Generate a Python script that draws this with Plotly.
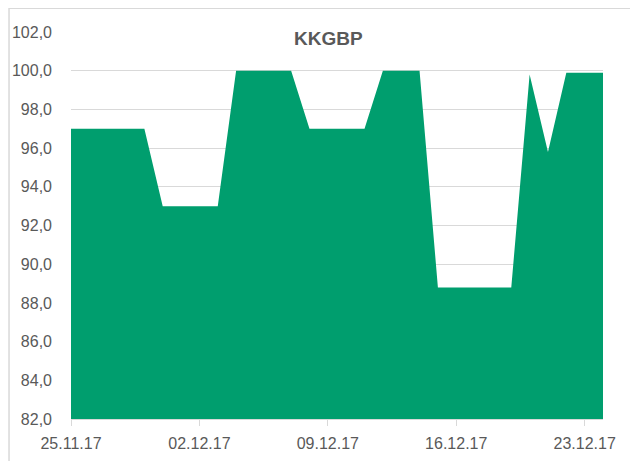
import plotly.graph_objects as go
import pandas as pd

dates = pd.date_range("2017-11-25", "2017-12-24", freq="D").strftime("%Y-%m-%d").tolist()
values = [97.0, 97.0, 97.0, 97.0, 97.0,
          93.0, 93.0, 93.0, 93.0,
          100.0, 100.0, 100.0, 100.0,
          97.0, 97.0, 97.0, 97.0,
          100.0, 100.0, 100.0,
          88.8, 88.8, 88.8, 88.8, 88.8,
          99.8, 95.8, 99.9, 99.9, 99.9]
tick_dates = ["2017-11-25", "2017-12-02", "2017-12-09", "2017-12-16", "2017-12-23"]
tick_labels = ["25.11.17", "02.12.17", "09.12.17", "16.12.17", "23.12.17"]
y_ticks = [82, 84, 86, 88, 90, 92, 94, 96, 98, 100, 102]
y_labels = [f"{v:.1f}".replace(".", ",") for v in y_ticks]
title = "KKGBP"

font = "Liberation Sans, Arial, sans-serif"
grey = "#595959"

fig = go.Figure()
fig.add_trace(go.Scatter(
    x=dates, y=values, mode="lines", line=dict(width=0, color="#009E6E"),
    fill="tozeroy", fillcolor="#009E6E", hoverinfo="x+y", showlegend=False,
))

fig.update_layout(
    width=630, height=453,
    margin=dict(l=63, r=35, t=24, b=42),
    paper_bgcolor="white", plot_bgcolor="white",
    font=dict(family=font, size=16, color=grey),
    xaxis=dict(
        type="date", range=["2017-11-25", "2017-12-24"],
        tickvals=tick_dates, ticktext=tick_labels,
        ticks="outside", ticklen=6, tickcolor="#D9D9D9", tickwidth=1,
        ticklabelstandoff=4, automargin=False,
        showgrid=False, showline=True, linecolor="#D9D9D9", linewidth=1,
        tickfont=dict(family=font, size=16, color=grey),
        zeroline=False,
    ),
    yaxis=dict(
        range=[82, 102], tickvals=y_ticks, ticktext=y_labels,
        showgrid=True, gridcolor="#D9D9D9", gridwidth=1,
        showline=False, zeroline=False, ticks="",
        ticklabelstandoff=18, automargin=False,
        tickfont=dict(family=font, size=16, color=grey),
    ),
    shapes=[dict(type="rect", xref="paper", yref="paper",
                 x0=-0.1165, x1=2, y0=-1, y1=1.0612,
                 line=dict(color="#D9D9D9", width=1.5), fillcolor="rgba(0,0,0,0)",
                 layer="below")],
    annotations=[dict(text=f"<b>{title}</b>", xref="paper", yref="paper",
                      x=(328 - 71) / 532, y=(419 - 38) / 387.3,
                      xanchor="center", yanchor="middle", showarrow=False,
                      bgcolor="white", borderpad=1,
                      font=dict(family=font, size=19, color=grey))],
)

fig.write_html("out.html")
